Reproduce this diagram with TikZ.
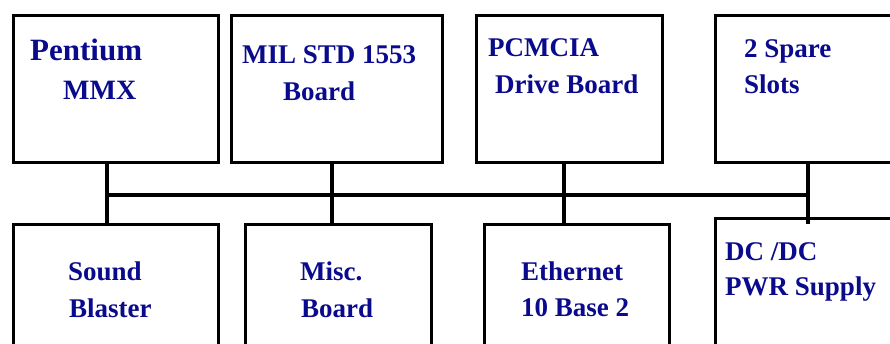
\documentclass[tikz,border=0pt]{standalone}
\usepackage{fontspec}
\setmainfont{Liberation Serif}
\definecolor{labelblue}{RGB}{10,10,140}
\begin{document}
\begin{tikzpicture}[x=1pt,y=-1pt,
  box/.style={draw=black,line width=3pt,fill=white,anchor=north west,inner sep=0pt},
  lbl/.style={anchor=base west,inner sep=0pt,text=labelblue,font=\fontsize{27}{30}\selectfont\bfseries},
  big/.style={lbl,font=\fontsize{31}{34}\selectfont\bfseries},
  wire/.style={draw=black,line width=4pt}]
\clip (0,0) rectangle (890,343);
\fill[white] (0,0) rectangle (890,343);
% top row
\node[box,minimum width=205,minimum height=147] (b1) at (11.5,13.5) {};
\node[box,minimum width=211,minimum height=147] (b2) at (229.5,13.5) {};
\node[box,minimum width=186,minimum height=147] (b3) at (474.5,13.5) {};
\node[box,minimum width=200,minimum height=147] (b4) at (713.5,13.5) {};
% bottom row
\node[box,minimum width=205,minimum height=150] (b5) at (11.5,223) {};
\node[box,minimum width=186,minimum height=150] (b6) at (243.5,223) {};
\node[box,minimum width=185,minimum height=150] (b7) at (482.5,223) {};
\node[box,minimum width=200,minimum height=150] (b8) at (713.5,217) {};
% bus
\coordinate (j1) at (107,195);
\coordinate (j2) at (332,195);
\coordinate (j3) at (564,195);
\coordinate (j4) at (808,195);
\coordinate (e4) at (808,224);
\draw[wire] (j1) -- (j4);
\draw[wire] (j1 |- b1.south) -- (j1 |- b5.north);
\draw[wire] (j2 |- b2.south) -- (j2 |- b6.north);
\draw[wire] (j3 |- b3.south) -- (j3 |- b7.north);
\draw[wire] (j4 |- b4.south) -- (e4);
% labels
\node[big] (t1a) at (30,60.5) {Pentium};
\node[lbl,font=\fontsize{28}{30}\selectfont\bfseries] (t1b) at (63,99) {MMX};
\node[lbl] (t2a) at (242,63) {MIL STD 1553};
\node[lbl] (t2b) at (283,100) {Board};
\node[lbl] (t3a) at (488,56) {PCMCIA};
\node[lbl] (t3b) at (495,93) {Drive Board};
\node[lbl] (t4a) at (744,57) {2 Spare};
\node[lbl] (t4b) at (744,93) {Slots};
\node[lbl] (t5a) at (68,280) {Sound};
\node[lbl] (t5b) at (69,317) {Blaster};
\node[lbl] (t6a) at (300,280) {Misc.};
\node[lbl] (t6b) at (301,317) {Board};
\node[lbl] (t7a) at (521,280) {Ethernet};
\node[lbl] (t7b) at (521,316) {10 Base 2};
\node[lbl] (t8a) at (725,260) {DC /DC};
\node[lbl] (t8b) at (725,295) {PWR Supply};
\end{tikzpicture}
\end{document}
